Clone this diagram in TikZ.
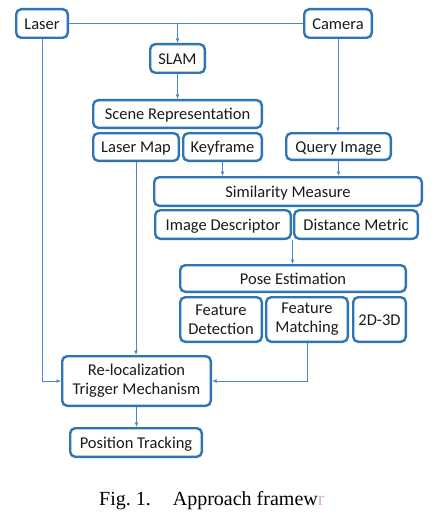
\documentclass[tikz,border=0pt]{standalone}
\usepackage{fontspec}
\setmainfont{Carlito}
\newfontfamily\capfont{Liberation Serif}
\usetikzlibrary{arrows.meta,calc}
\definecolor{boxblue}{HTML}{2E75B6}
\definecolor{linkblue}{HTML}{4A86C8}
\definecolor{txt}{HTML}{1A1A1A}
\tikzset{
  box/.style={draw=boxblue, line width=2.4pt, rounded corners=5pt, fill=white,
    inner sep=0pt, align=center, text=txt, text height=13.2pt, text depth=1.8pt,
    font=\fontsize{16.5}{19}\selectfont},
  twoline/.style={text height={}, text depth={}},
  link/.style={draw=linkblue, line width=0.9pt},
  arr/.style={link, -{Latex[length=4.5pt,width=4pt]}}
}
\newcommand{\bx}[7][]{\node[box, #1, minimum width={(#5-#3-2.4)*1pt}, minimum height={(#6-#4-2.4)*1pt}] (#2) at ({(#3+#5)/2},{(#4+#6)/2}) {#7};}
\begin{document}
\begin{tikzpicture}[x=1pt,y=-1pt]
\useasboundingbox (0,0) rectangle (435,516);
\bx{laser}{15}{8}{69}{39}{Laser}
\bx{camera}{303}{8}{373}{39}{Camera}
\bx{slam}{149}{43}{206}{74}{SLAM}
\bx{scene}{92}{99}{263}{129}{Scene Representation}
\bx{lmap}{92}{132}{180}{162}{Laser Map}
\bx{kf}{182}{132}{263}{162}{Keyframe}
\bx{query}{285}{132}{392}{161}{Query Image}
\bx{sim}{153}{176}{423}{207}{Similarity Measure}
\bx{idesc}{154}{209}{292}{240}{Image Descriptor}
\bx{dm}{293}{209}{419}{240}{Distance Metric}
\bx{pose}{179}{264}{407}{293}{Pose Estimation}
\bx[twoline]{fd}{179}{296}{263}{343}{Feature\\Detection}
\bx[twoline]{fm}{265}{296}{349}{343}{Feature\\Matching}
\bx{tdd}{352}{296}{407}{343}{2D-3D}
\bx[twoline]{reloc}{61}{355}{212}{407}{Re-localization\\Trigger Mechanism}
\bx{ptrack}{69}{427}{203}{458}{Position Tracking}
\coordinate (junc) at ($(idesc.south east)!0.5!(dm.south west)$);
% connectors
\draw[link] (laser.east) -- (camera.west);
\draw[arr] (slam.north |- laser.east) -- (slam.north);
\draw[arr] (slam.south) -- (slam.south |- scene.north);
\draw[arr] (laser.south) |- (reloc.west);
\draw[arr] (camera.south) -- (camera.south |- query.north);
\draw[arr] (lmap.south) -- (lmap.south |- reloc.north);
\draw[arr] (kf.south) -- (kf.south |- sim.north);
\draw[arr] (query.south) -- (query.south |- sim.north);
\draw[arr] (junc) -- (junc |- pose.north);
\draw[arr] (fm.south) |- (reloc.east);
\draw[arr] (reloc.south) -- (reloc.south |- ptrack.north);
\node[anchor=base west, inner sep=0pt, font=\capfont\fontsize{20}{23}\selectfont] (cap) at (99,505) {Fig.~1.\hspace{22pt}Approach framew\textcolor{red!30!gray!45}{r}};
\end{tikzpicture}
\end{document}
